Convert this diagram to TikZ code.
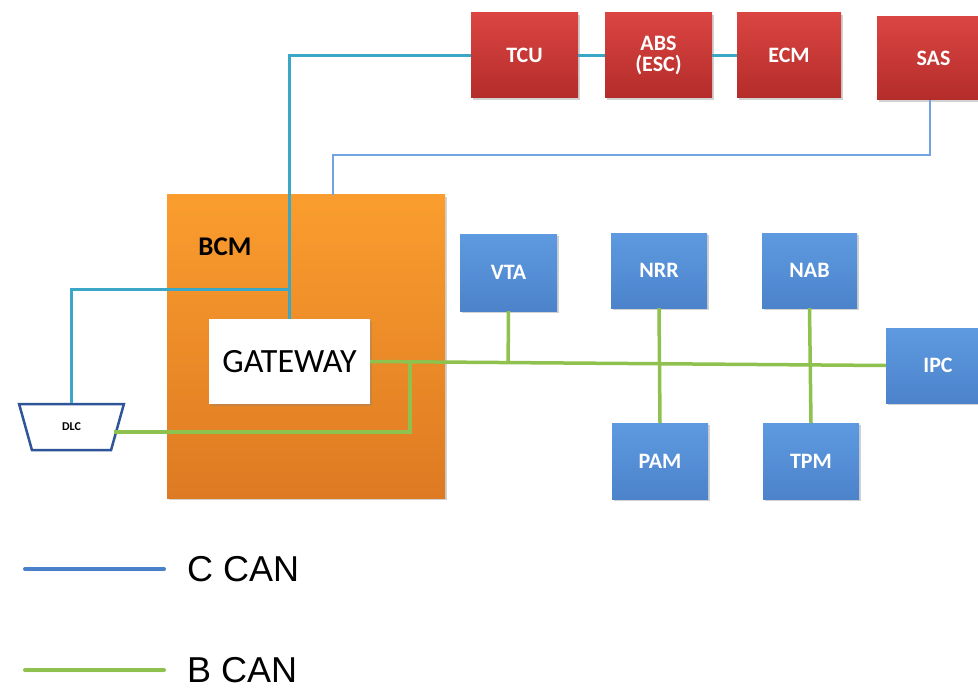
\documentclass[tikz,border=0pt]{standalone}
\usepackage{fontspec}
\setmainfont{Carlito}
\newfontfamily\legendfont{Liberation Sans}
\usetikzlibrary{shadows,shapes.geometric,calc}
\definecolor{redtop}{HTML}{DA4542}
\definecolor{redbot}{HTML}{B42C2A}
\definecolor{bluetop}{HTML}{5E9AE0}
\definecolor{bluebot}{HTML}{4C83CB}
\definecolor{orgtop}{HTML}{FA9D2E}
\definecolor{orgbot}{HTML}{DE7A22}
\definecolor{tealline}{HTML}{3AA7C6}
\definecolor{ltblue}{HTML}{72A4E4}
\definecolor{greenline}{HTML}{8FC14F}
\definecolor{legblue}{HTML}{4A7FC9}
\definecolor{dlcblue}{HTML}{2E5597}
\tikzset{
  ecu/.style={inner sep=0pt, font=\fontsize{22}{24}\selectfont\bfseries, text=white,
    drop shadow={shadow xshift=1.5pt, shadow yshift=-2pt, opacity=0.35}},
  redbox/.style={ecu, top color=redtop, bottom color=redbot},
  bluebox/.style={ecu, top color=bluetop, bottom color=bluebot},
  ccan/.style={draw=tealline, line width=3pt},
  ccan2/.style={draw=ltblue, line width=2pt},
  bcan/.style={draw=greenline, line width=3.5pt},
}
\begin{document}
\begin{tikzpicture}[x=1pt,y=-1pt]
\useasboundingbox (0,0) rectangle (978,690);
\clip (0,0) rectangle (978,690);
\fill[white] (0,0) rectangle (978,690);

% BCM
\node[inner sep=0pt, minimum width=278, minimum height=303, top color=orgtop, bottom color=orgbot,
  drop shadow={shadow xshift=1.5pt, shadow yshift=-2pt, opacity=0.35}] (bcm) at (306,346.5) {};
\node[font=\fontsize{27}{29}\selectfont\bfseries, text=black] (bcml) at (225,247) {BCM};

% top red modules
\node[redbox, minimum width=107, minimum height=85] (tcu) at (524.5,55.5) {TCU};
\node[redbox, minimum width=107, minimum height=85, align=center, font=\fontsize{22}{21}\selectfont\bfseries] (abs) at (658.5,55.5) {ABS\\(ESC)};
\node[redbox, minimum width=104, minimum height=85] (ecm) at (789,55.5) {ECM};
\node[redbox, minimum width=113, minimum height=83] (sas) at (933.5,58.5) {SAS};

% gateway
\node[inner sep=0pt, minimum width=161, minimum height=85, fill=white,
  drop shadow={shadow xshift=1.5pt, shadow yshift=-2pt, opacity=0.3},
  font=\fontsize{34}{36}\selectfont] (gw) at (289.5,361.5) {GATEWAY};

% DLC
\node[trapezium, draw=dlcblue, line width=2.5pt, fill=white, shape border rotate=180,
  trapezium angle=69, trapezium stretches=true, minimum width=105, minimum height=46,
  inner sep=0pt, font=\fontsize{12}{13}\selectfont\bfseries] (dlc) at (71.5,427) {DLC};

% blue modules
\node[bluebox, minimum width=97, minimum height=77] (vta) at (508.5,272.5) {VTA};
\node[bluebox, minimum width=96, minimum height=75] (nrr) at (659,270.5) {NRR};
\node[bluebox, minimum width=95, minimum height=75] (nab) at (809.5,270.5) {NAB};
\node[bluebox, minimum width=96, minimum height=76] (pam) at (660,461) {PAM};
\node[bluebox, minimum width=96, minimum height=76] (tpm) at (811,461) {TPM};
\node[bluebox, minimum width=104, minimum height=75] (ipc) at (938,365.5) {IPC};

% C CAN connections
\draw[ccan] (tcu.west) -| (gw.north);
\draw[ccan] (tcu.east) -- (abs.west);
\draw[ccan] (abs.east) -- (ecm.west);
\coordinate (j1) at (290,289);
\draw[ccan] (j1) -| (dlc.north);
\coordinate (c2) at (333,155);
\draw[ccan2] (sas.south -| 930,0) |- (c2) -- (c2 |- bcm.north);

% B CAN connections
\draw[bcan] (gw.east) -- (ipc.west);
\coordinate (b1) at (410,362);
\coordinate (b2) at (410,432);
\coordinate (dlcE) at (113.5,432);
\draw[bcan] (b1) -- (b2) -- (dlcE);
\draw[bcan] (vta.south) -- ($(gw.east)!(vta.south)!(ipc.west)$);
\draw[bcan] (nrr.south) -- (pam.north);
\draw[bcan] (nab.south) -- (tpm.north);

% legend
\coordinate (l1a) at (25,569);
\coordinate (l1b) at (164,569);
\coordinate (l2a) at (25,670);
\coordinate (l2b) at (164,670);
\draw[legblue, line width=4pt, line cap=round, drop shadow={shadow xshift=1pt, shadow yshift=-2pt, opacity=0.3}] (l1a) -- (l1b);
\draw[greenline, line width=4pt, line cap=round, drop shadow={shadow xshift=1pt, shadow yshift=-2pt, opacity=0.3}] (l2a) -- (l2b);
\node[anchor=west, inner sep=0pt, font=\legendfont\fontsize{36}{38}\selectfont] (l1t) at (187,569) {C CAN};
\node[anchor=west, inner sep=0pt, font=\legendfont\fontsize{36}{38}\selectfont] (l2t) at (187,670) {B CAN};
\end{tikzpicture}
\end{document}
